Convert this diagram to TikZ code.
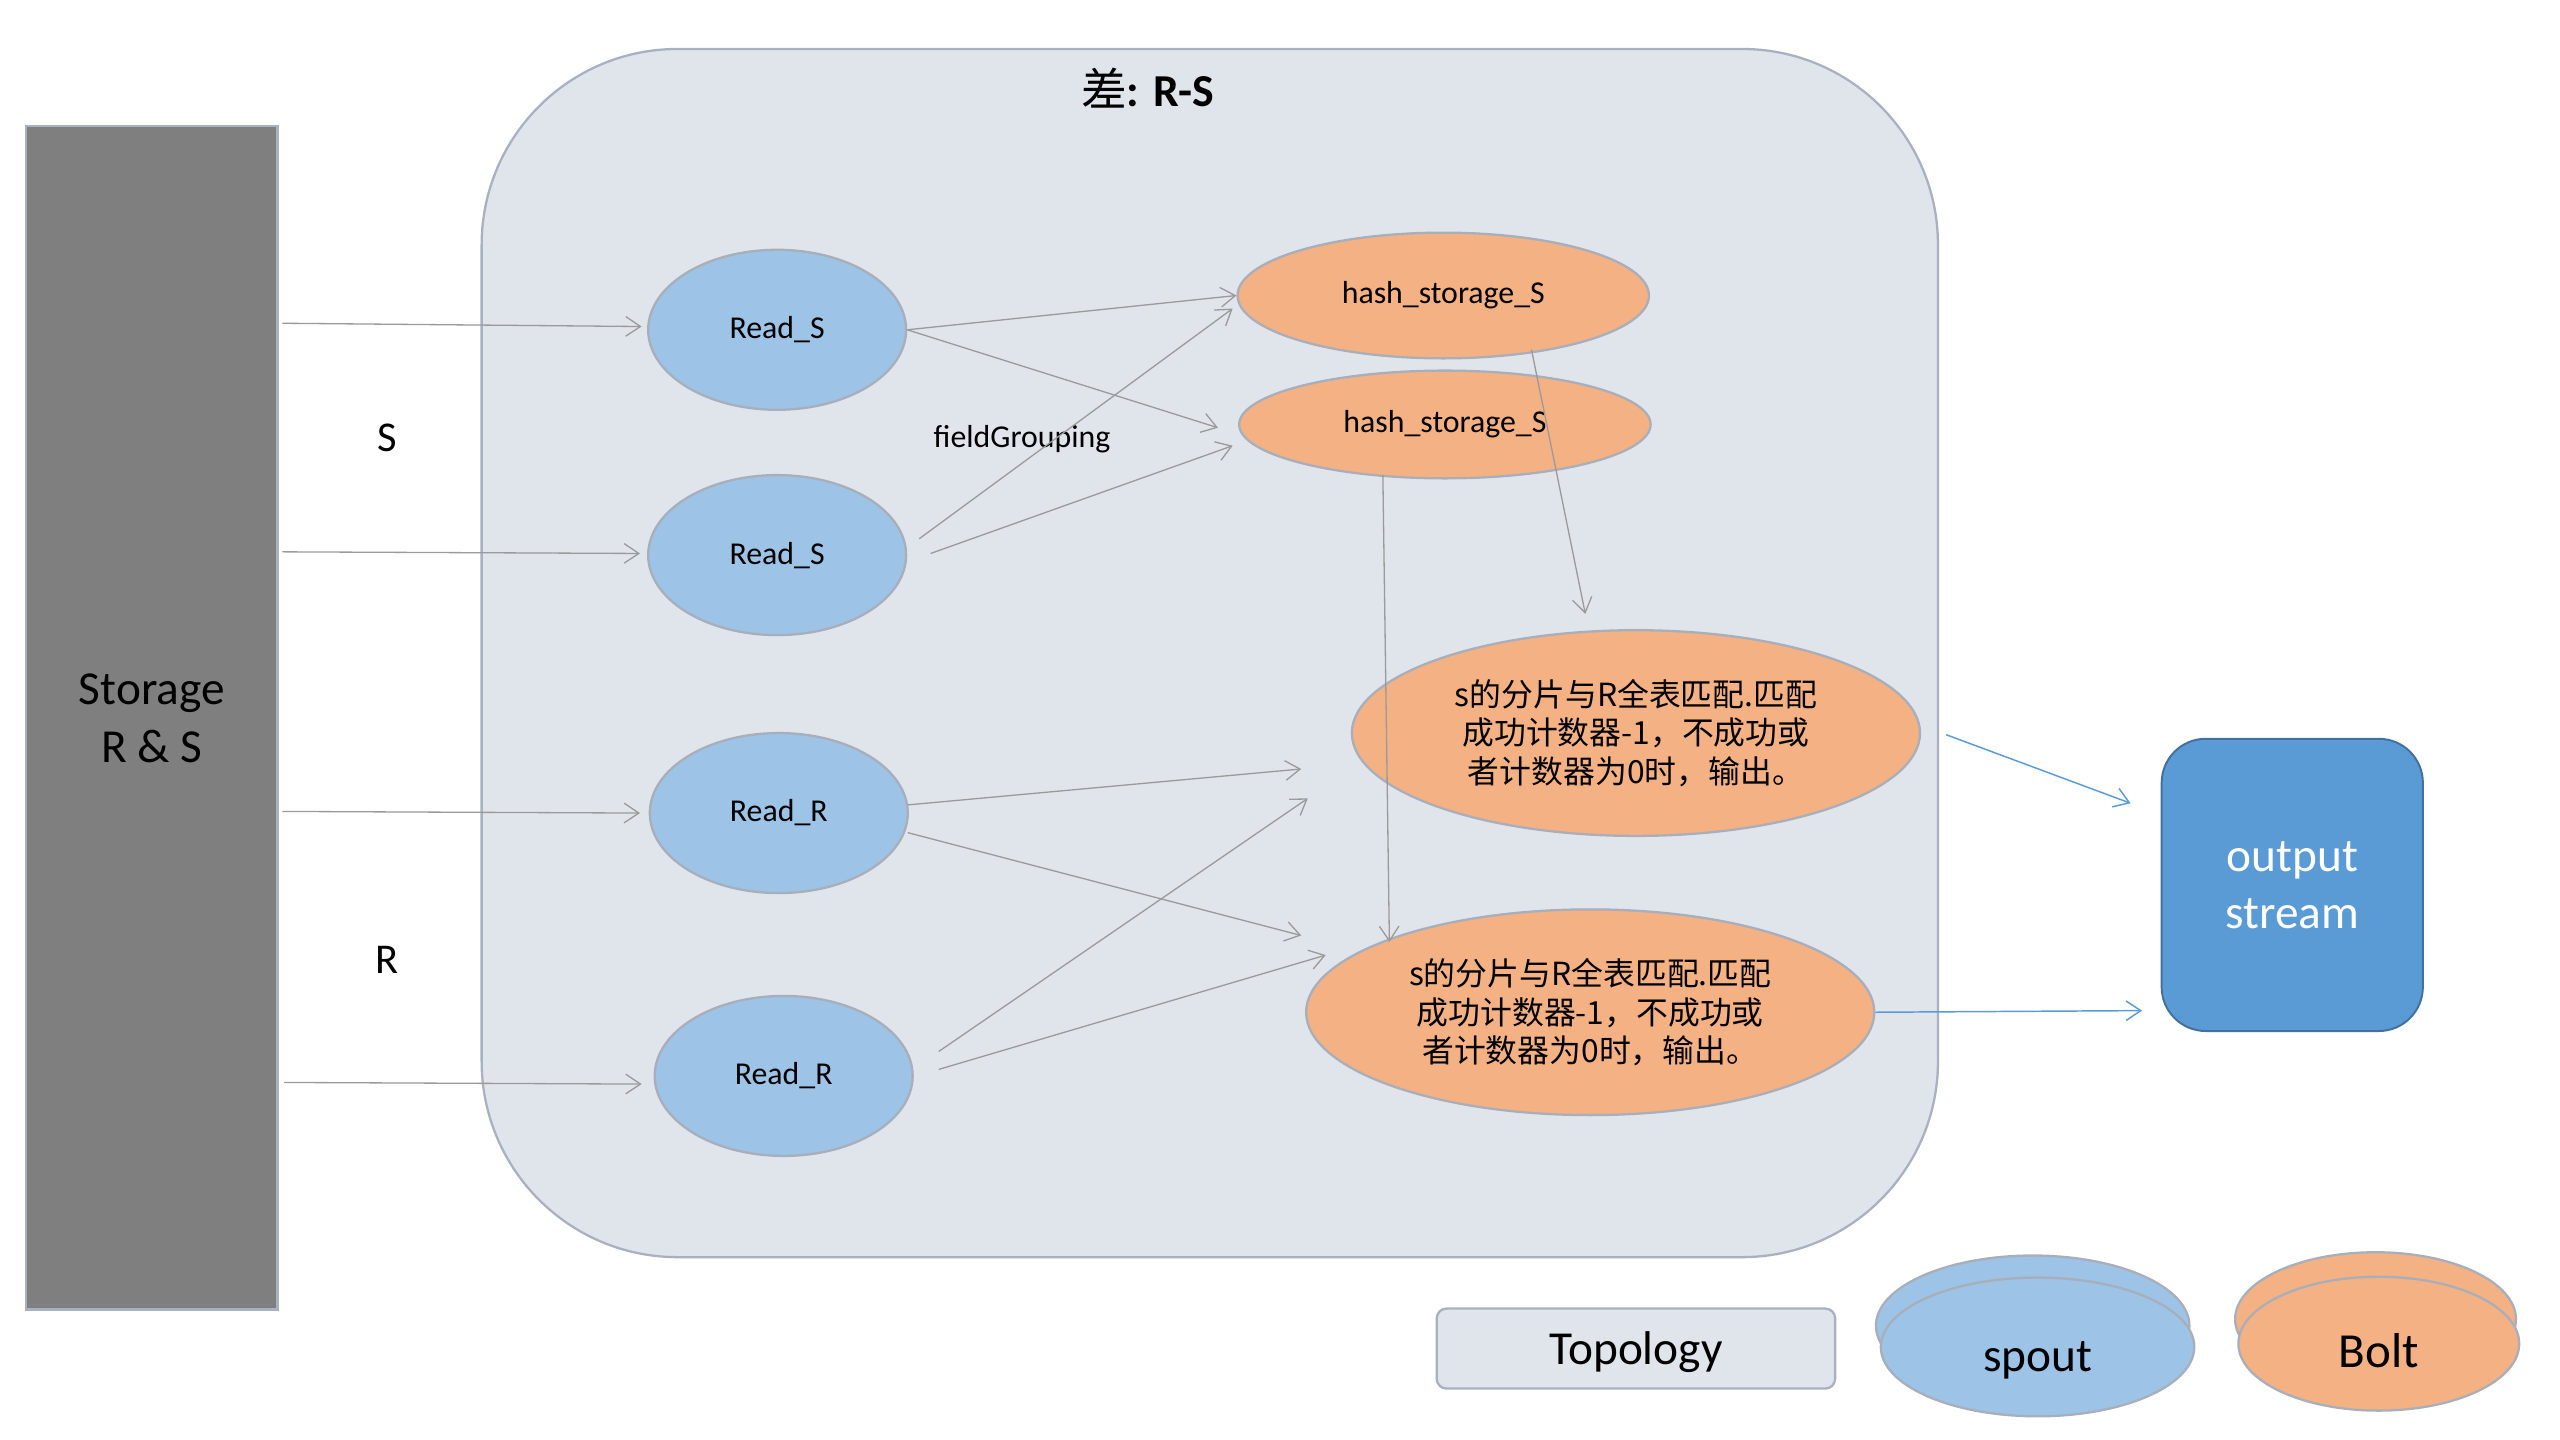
\documentclass[tikz,border=0pt]{standalone}
\usepackage{fontspec}
\setmainfont{Carlito}
\newfontfamily\cjk{Noto Sans CJK SC}
\usetikzlibrary{shapes.geometric,arrows.meta}
\definecolor{topofill}{HTML}{E0E5EC}
\definecolor{topoedge}{HTML}{A9B1C1}
\definecolor{spoutblue}{HTML}{9DC3E6}
\definecolor{boltorange}{HTML}{F4B183}
\definecolor{nodeedge}{HTML}{A8AEBA}
\definecolor{outfill}{HTML}{5B9BD5}
\definecolor{outedge}{HTML}{41719C}
\definecolor{storagefill}{HTML}{7F7F7F}
\definecolor{arrgray}{HTML}{9A9A9A}
\tikzset{
  spoutnode/.style={ellipse, fill=spoutblue, draw=nodeedge, line width=1.4pt, inner sep=0pt,
    minimum width=158pt, minimum height=98pt, font=\fontsize{19.5}{23}\selectfont},
  hashnode/.style={ellipse, fill=boltorange, draw=nodeedge, line width=1.4pt, inner sep=0pt,
    font=\fontsize{19.5}{23}\selectfont},
  bignode/.style={ellipse, fill=boltorange, draw=nodeedge, line width=1.4pt, inner sep=0pt,
    minimum width=348pt, minimum height=126pt, align=center,
    font=\cjk\fontsize{19.5}{23.5}\selectfont},
  arr/.style={draw=arrgray, line width=0.8pt, -{Straight Barb[length=9pt,width=12pt]}},
  bluearr/.style={draw=outfill, line width=0.9pt, -{Straight Barb[length=9pt,width=12pt]}},
  bigtext/.style={font=\fontsize{29}{35}\selectfont, align=center},
}
\begin{document}
\begin{tikzpicture}[x=1pt,y=-1pt]
\useasboundingbox (0,0) rectangle (1568,882);
% storage
\node[draw=topoedge, fill=storagefill, line width=1.4pt, minimum width=154pt, minimum height=725pt,
  inner sep=0pt] (st) at (93,439.5) {};
\node[bigtext] (sttext) at (93,440) {Storage\\R \& S};
% topology container
\node[draw=topoedge, fill=topofill, line width=1.4pt, rounded corners=120pt,
  minimum width=892pt, minimum height=740pt, inner sep=0pt] (topo) at (741,400) {};
\node[font=\fontsize{28}{34}\selectfont] (title) at (703,54) {{\cjk 差}\textbf{: R-S}};
% labels
\node[font=\fontsize{26}{30}\selectfont] (lS) at (237,268) {S};
\node[font=\fontsize{26}{30}\selectfont] (lR) at (237,588) {R};
\node[font=\fontsize{19.5}{23}\selectfont] (fg) at (626,269) {fieldGrouping};
% spouts
\node[spoutnode] (rs1) at (476,202) {Read\_S};
\node[spoutnode] (rs2) at (476,340) {Read\_S};
\node[spoutnode] (rr1) at (477,498) {Read\_R};
\node[spoutnode] (rr2) at (480,659) {Read\_R};
% hash bolts
\node[hashnode, minimum width=252pt, minimum height=77pt] (hs1) at (884,181) {hash\_storage\_S};
\node[hashnode, minimum width=252pt, minimum height=66pt] (hs2) at (885,260) {hash\_storage\_S};
% big bolts
\node[bignode] (b1) at (1002,449) {s的分片与R全表匹配.匹配\\成功计数器-1，不成功或\\者计数器为0时，输出。};
\node[bignode] (b2) at (974,620) {s的分片与R全表匹配.匹配\\成功计数器-1，不成功或\\者计数器为0时，输出。};
% output stream
\node[draw=outedge, fill=outfill, line width=1.2pt, rounded corners=27pt, minimum width=160pt,
  minimum height=179pt, inner sep=0pt, text=white, bigtext] (out) at (1404,542) {output\\stream};
% legend
\node[draw=topoedge, fill=topofill, line width=1.4pt, rounded corners=6pt, minimum width=244pt,
  minimum height=49pt, inner sep=0pt,
  label={[font=\fontsize{29}{35}\selectfont, yshift=-2pt]center:Topology}] (lgtopo) at (1002,826) {};
\node[ellipse, fill=spoutblue, draw=nodeedge, line width=1.4pt, minimum width=192pt, minimum height=86pt,
  inner sep=0pt] (lgspoutback) at (1245,812) {};
\node[ellipse, fill=spoutblue, draw=nodeedge, line width=1.4pt, minimum width=192pt, minimum height=85pt,
  inner sep=0pt, label={[font=\fontsize{29}{35}\selectfont, yshift=-8pt]center:spout}] (lgspout) at (1248,825) {};
\node[ellipse, fill=boltorange, draw=nodeedge, line width=1.4pt, minimum width=172pt, minimum height=82pt,
  inner sep=0pt] (lgboltback) at (1455,808) {};
\node[ellipse, fill=boltorange, draw=nodeedge, line width=1.4pt, minimum width=172pt, minimum height=82pt,
  inner sep=0pt, label={[font=\fontsize{30}{36}\selectfont, yshift=-4pt]center:Bolt}] (lgbolt) at (1457,823) {};
% arrow end points
\coordinate (e1) at (393,200);
\coordinate (e2) at (392,339);
\coordinate (e3) at (392,498);
\coordinate (e4) at (393,664);
\coordinate (s1) at (173,198);
\coordinate (s2) at (173,338);
\coordinate (s3) at (173,497);
\coordinate (s4) at (174,663);
\coordinate (s7) at (563,330);
\coordinate (s8) at (570,339);
\coordinate (e6) at (746,262);
\coordinate (e7) at (755,189);
\coordinate (e8) at (755,273);
\coordinate (s9) at (938,214);
\coordinate (e9) at (971,376);
\coordinate (s10) at (847,291);
\coordinate (e10) at (851,577);
\coordinate (s11) at (556,493);
\coordinate (e11) at (797,471);
\coordinate (s12) at (556,510);
\coordinate (e12) at (797,573);
\coordinate (s13) at (575,644);
\coordinate (e13) at (801,489);
\coordinate (s14) at (575,655);
\coordinate (e14) at (812,585);
\coordinate (s15) at (1192,450);
\coordinate (e15) at (1305,492);
\coordinate (e16) at (1312,619);
% connectors
\draw[arr] (s1) -- (e1);
\draw[arr] (s2) -- (e2);
\draw[arr] (s3) -- (e3);
\draw[arr] (s4) -- (e4);
\draw[arr] (rs1.east) -- (hs1.west);
\draw[arr] (rs1.east) -- (e6);
\draw[arr] (s7) -- (e7);
\draw[arr] (s8) -- (e8);
\draw[arr] (s9) -- (e9);
\draw[arr] (s10) -- (e10);
\draw[arr] (s11) -- (e11);
\draw[arr] (s12) -- (e12);
\draw[arr] (s13) -- (e13);
\draw[arr] (s14) -- (e14);
\draw[bluearr] (s15) -- (e15);
\draw[bluearr] (b2.east) -- (e16);
\end{tikzpicture}
\end{document}
